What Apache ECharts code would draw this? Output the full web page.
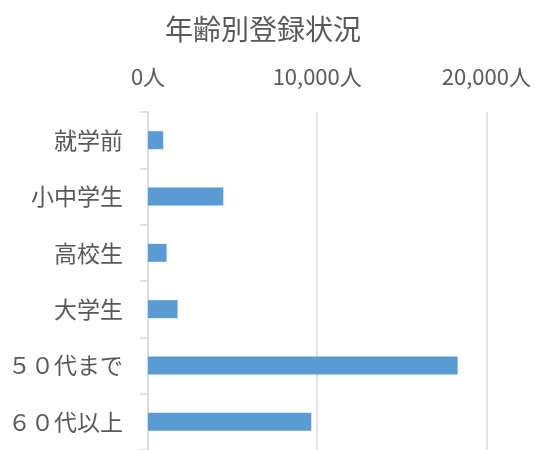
<!DOCTYPE html>
<html>
<head>
<meta charset="utf-8">
<script src="https://cdn.jsdelivr.net/npm/echarts@6/dist/echarts.min.js"></script>
<style>
  html, body { margin: 0; padding: 0; background: #fff; }
  #chart { width: 534px; height: 450px; }
</style>
</head>
<body>
<div id="chart"></div>
<script>
// 年齢別の区分と登録人数
var categories = ["就学前", "小中学生", "高校生", "大学生", "５０代まで", "６０代以上"];
var counts = [900, 4450, 1100, 1750, 18300, 9650];
var xTicks = [0, 10000, 20000];

var myChart = echarts.init(document.getElementById("chart"));

var font = '"Noto Sans CJK JP", "Noto Sans", sans-serif';

var option = {
  backgroundColor: "#fff",
  title: {
    text: "年齢別登録状況",
    left: 160,
    top: 10,
    textStyle: { fontFamily: font, fontSize: 28, fontWeight: "normal", color: "#595959" },
  },
  grid: { left: 148, top: 112, width: 340, height: 342 },
  xAxis: {
    type: "value",
    position: "top",
    min: xTicks[0],
    max: xTicks[xTicks.length - 1],
    interval: 10000,
    axisLine: { show: false },
    axisTick: { show: false },
    axisLabel: {
      margin: 24,
      fontFamily: font,
      fontSize: 22,
      color: "#595959",
      formatter: function (v) {
        return v.toLocaleString("en-US") + "人";
      },
    },
    splitLine: { lineStyle: { color: "#d9d9d9", width: 1.5 } },
  },
  yAxis: {
    type: "category",
    inverse: true,
    data: categories,
    axisLine: { lineStyle: { color: "#d9d9d9", width: 1.5 } },
    axisTick: { show: true, length: 8, lineStyle: { color: "#d9d9d9", width: 1.5 } },
    axisLabel: { margin: 25, fontFamily: font, fontSize: 23, color: "#595959" },
  },
  series: [
    {
      type: "bar",
      data: counts,
      barWidth: 18,
      itemStyle: { color: "#5b9bd5" },
    },
  ],
};

myChart.setOption(option);
</script>
</body>
</html>
